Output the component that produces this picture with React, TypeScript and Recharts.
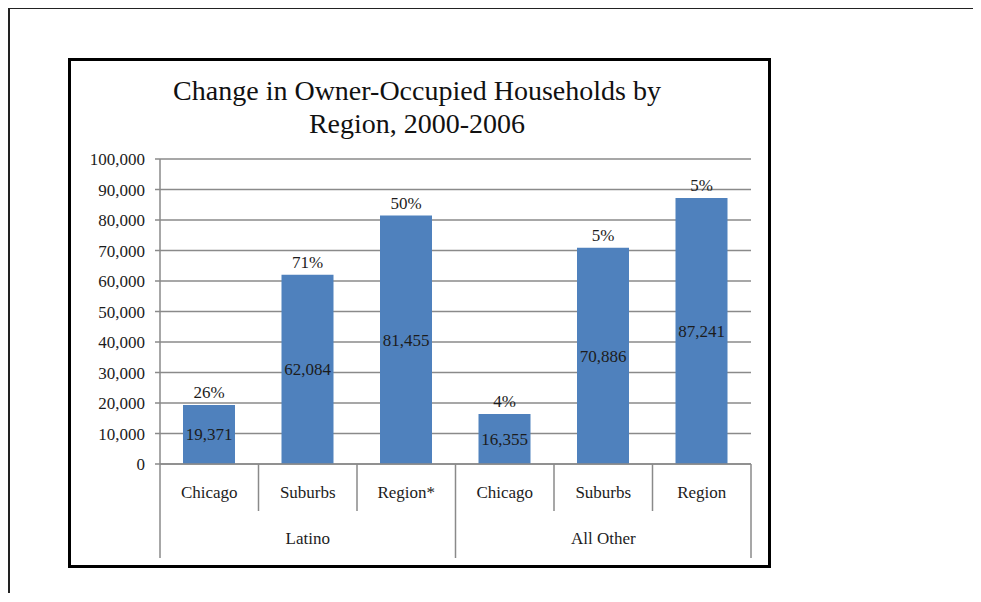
import { BarChart, Bar, XAxis, YAxis, CartesianGrid, LabelList } from "recharts";

const categories = ["Chicago", "Suburbs", "Region*", "Chicago", "Suburbs", "Region"];
const groups = ["Latino", "Latino", "Latino", "All Other", "All Other", "All Other"];
const households = [19371, 62084, 81455, 16355, 70886, 87241];
const pctChange = ["26%", "71%", "50%", "4%", "5%", "5%"];
const yTicks = [0, 10000, 20000, 30000, 40000, 50000, 60000, 70000, 80000, 90000, 100000];

const chartData = categories.map((name, i) => ({
  id: i,
  name,
  group: groups[i],
  value: households[i],
  pct: pctChange[i],
}));

const SERIF = '"Liberation Serif", "Times New Roman", serif';
const GRID = "#8a8a8a";
const INK = "#1c1c1c";

function CategoryTick(props: any) {
  const { x, y, index, width } = props;
  const band = width / categories.length;
  const left = x - band / 2;
  const right = x + band / 2;
  const groupStart = index === 0 || groups[index] !== groups[index - 1];
  const isLast = index === categories.length - 1;
  // group label sits under the middle category of its group
  const members = groups.map((g, i) => (g === groups[index] ? i : -1)).filter((i) => i >= 0);
  const mid = members[Math.floor(members.length / 2)];
  return (
    <g fontFamily={SERIF}>
      <line x1={left} x2={left} y1={y} y2={y + (groupStart ? 94 : 47)} stroke={GRID} strokeWidth={1.5} />
      {isLast && <line x1={right} x2={right} y1={y} y2={y + 94} stroke={GRID} strokeWidth={1.5} />}
      <text x={x} y={y + 28} textAnchor="middle" dominantBaseline="central" fontSize={17} fill={INK}>
        {categories[index]}
      </text>
      {index === mid && (
        <text x={x} y={y + 74} textAnchor="middle" dominantBaseline="central" fontSize={17} fill={INK}>
          {groups[index]}
        </text>
      )}
    </g>
  );
}

export default function App() {
  return (
    <div
      style={{
        position: "relative",
        width: 973,
        height: 594,
        marginTop: -1,
        marginBottom: -8,
        borderTop: "2px solid #222",
        borderLeft: "2px solid #222",
        boxSizing: "border-box",
        fontFamily: SERIF,
        background: "#fff",
      }}
    >
      <div
        style={{
          position: "absolute",
          left: 58,
          top: 49,
          width: 703,
          height: 510,
          border: "3px solid #000",
          boxSizing: "border-box",
        }}
      >
        <div
          style={{
            position: "absolute",
            left: 0,
            top: 13,
            width: 692,
            textAlign: "center",
            fontFamily: SERIF,
            fontSize: 28,
            lineHeight: "33px",
            color: "#111",
          }}
        >
          Change in Owner-Occupied Households by
          <br />
          Region, 2000-2006
        </div>
        <BarChart
          width={697}
          height={504}
          data={chartData}
          margin={{ top: 98, right: 17, left: 0, bottom: 0 }}
          style={{ fontFamily: SERIF }}
        >
          <CartesianGrid vertical={false} stroke={GRID} strokeWidth={1.5} />
          <XAxis
            dataKey="id"
            interval={0}
            height={101}
            tickSize={0}
            tickMargin={0}
            axisLine={{ stroke: GRID, strokeWidth: 1.5 }}
            tick={<CategoryTick />}
          />
          <YAxis
            width={89}
            domain={[0, 100000]}
            ticks={yTicks}
            interval={0}
            tickFormatter={(v: number) => v.toLocaleString("en-US")}
            tickSize={5}
            tickMargin={10}
            axisLine={{ stroke: GRID, strokeWidth: 1.5 }}
            tickLine={{ stroke: GRID, strokeWidth: 1.5 }}
            tick={{ fontSize: 17, fill: INK, fontFamily: SERIF }}
          />
          <Bar dataKey="value" fill="#4F81BD" barSize={52} isAnimationActive={false}>
            <LabelList
              dataKey="value"
              position="center"
              formatter={(v: any) => Number(v).toLocaleString("en-US")}
              style={{ fontSize: 17, fill: INK, fontFamily: SERIF }}
            />
            <LabelList
              dataKey="pct"
              position="top"
              offset={7}
              style={{ fontSize: 17, fill: INK, fontFamily: SERIF }}
            />
          </Bar>
        </BarChart>
      </div>
    </div>
  );
}
